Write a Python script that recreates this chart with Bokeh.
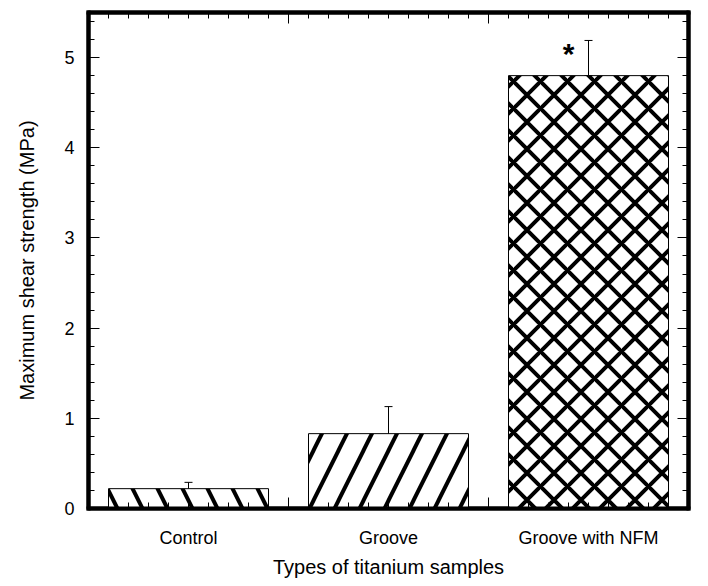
from bokeh.plotting import figure
from bokeh.models import (ColumnDataSource, Whisker, TeeHead, FixedTicker,
                          LinearAxis, Range1d)
from bokeh.embed import file_html
from bokeh.resources import INLINE
from bokeh.core.properties import value
import numpy as np

# ---- data ----
categories = ["Control", "Groove", "Groove with NFM"]
means = [0.22, 0.83, 4.80]
err_plus = [0.07, 0.30, 0.39]
err_minus = [0.07, 0.30, 0.0]
hatches = ["left_diagonal_line", "right_diagonal_line", "diagonal_cross"]
positions = [0.5, 1.5, 2.5]
significance = ["", "", "*"]
y_ticks = [0, 1, 2, 3, 4, 5]
x_title = "Types of titanium samples"
y_title = "Maximum shear strength (MPa)"

FONT = "Liberation Sans"
# hatch tile size per pattern (styling)
HATCH_SCALE = {"left_diagonal_line": 50, "right_diagonal_line": 50,
               "diagonal_cross": 27}

src = ColumnDataSource(dict(
    x=positions, top=means, hatch=hatches,
    hscale=[HATCH_SCALE[h] for h in hatches],
    upper=[m + e for m, e in zip(means, err_plus)],
    lower=[m - e for m, e in zip(means, err_minus)],
))

p = figure(frame_width=600, frame_height=496,
           x_range=Range1d(0, 3), y_range=Range1d(0, 5.5),
           output_backend="svg", toolbar_location=None,
           min_border_left=88, min_border_top=12, min_border_right=10,
           min_border_bottom=5, background_fill_color="white",
           border_fill_color="white")
p.outline_line_color = "black"
p.outline_line_width = 4
p.grid.visible = False

# bars
p.vbar(x="x", top="top", width=0.8, source=src, fill_color="white",
       line_color="black", line_width=1, hatch_pattern="hatch",
       hatch_color="black", hatch_scale="hscale", hatch_weight=4)

# error bars
wh = Whisker(base="x", upper="upper", lower="lower", source=src,
             line_color="black", line_width=1,
             upper_head=TeeHead(size=8, line_color="black", line_width=1),
             lower_head=TeeHead(size=8, line_color="black", line_width=1))
p.add_layout(wh)

# significance star
sx = [x - 0.1 for x, s in zip(positions, significance) if s]
sy = [m + e - 0.15 for m, e, s in zip(means, err_plus, significance) if s]
st = [s for s in significance if s]
p.text(x=sx, y=sy, text=st, text_font=value(FONT), text_font_style="bold",
       text_font_size="30px", text_align="center", text_baseline="alphabetic",
       text_color="black")

# tickers
x_minor = [round(v, 2) for v in np.arange(0, 3.001, 0.1)]
y_minor = [round(v, 2) for v in np.arange(0, 5.501, 0.2)]
xt = FixedTicker(ticks=[0, 1, 2, 3], minor_ticks=x_minor)
yt = FixedTicker(ticks=y_ticks, minor_ticks=y_minor)


def style_frame_axis(ax):
    ax.axis_line_color = "black"
    ax.axis_line_width = 4
    ax.axis_line_cap = "square"
    ax.major_tick_in = 11
    ax.major_tick_out = 0
    ax.minor_tick_in = 6
    ax.minor_tick_out = 0
    ax.major_tick_line_color = "black"
    ax.minor_tick_line_color = "black"
    ax.major_tick_line_width = 1
    ax.minor_tick_line_width = 1


def hide_labels(ax):
    ax.major_label_text_color = None
    ax.major_label_text_font_size = "1px"
    ax.major_label_standoff = 0


# bottom: tick axis (no labels)
xa = p.xaxis[0]
xa.ticker = xt
style_frame_axis(xa)
hide_labels(xa)

# bottom: label axis
xl = LinearAxis(ticker=FixedTicker(ticks=positions, minor_ticks=[]),
                major_label_overrides={pos: c for pos, c in zip(positions, categories)},
                axis_line_color=None, major_tick_line_color=None,
                minor_tick_line_color=None, major_tick_out=0, major_tick_in=0,
                major_label_standoff=19,
                major_label_text_font=FONT, major_label_text_font_size="18px",
                major_label_text_color="black",
                axis_label=x_title, axis_label_text_font=FONT,
                axis_label_text_font_size="20px",
                axis_label_text_font_style="normal",
                axis_label_text_color="black", axis_label_standoff=5)
p.add_layout(xl, "below")

# left axis
ya = p.yaxis[0]
ya.ticker = yt
style_frame_axis(ya)
ya.major_label_text_font = FONT
ya.major_label_text_font_size = "18px"
ya.major_label_text_color = "black"
ya.major_label_standoff = 14
ya.axis_label = y_title
ya.axis_label_text_font = FONT
ya.axis_label_text_font_size = "20px"
ya.axis_label_text_font_style = "normal"
ya.axis_label_text_color = "black"
ya.axis_label_standoff = 23

# top and right axes (ticks only)
ta = LinearAxis(ticker=xt)
style_frame_axis(ta)
hide_labels(ta)
p.add_layout(ta, "above")
ra = LinearAxis(ticker=yt)
style_frame_axis(ra)
hide_labels(ra)
p.add_layout(ra, "right")

open("out.html", "w").write(file_html(p, INLINE))
